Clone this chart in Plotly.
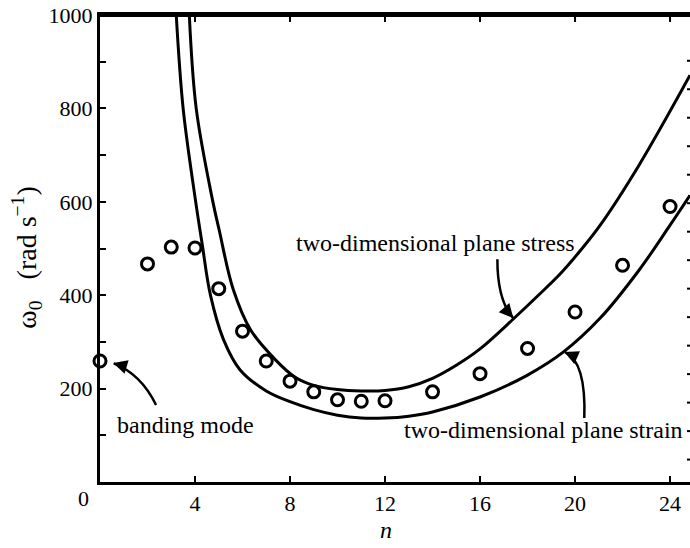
import plotly.graph_objects as go

# ---- data ----
n_exp = [0, 2, 3, 4, 5, 6, 7, 8, 9, 10, 11, 12, 14, 16, 18, 20, 22, 24]
w_exp = [259, 467, 503, 501, 414, 323, 259, 216, 193, 176, 173, 174, 193, 232, 286, 364, 464, 590]

n_stress = [3.76, 4.05, 4.74, 5.02, 5.6, 6.35, 7.4, 8.2, 9.0, 10, 11, 12, 13, 14, 15, 16, 17.4, 18.5, 19.4, 20.2, 21.06, 22.7, 24.84]
w_stress = [1000, 800, 603, 539, 414, 325, 261, 225, 207, 198, 195, 196, 204, 222, 250, 285, 349, 402, 447, 494, 550, 679, 871]

n_strain = [3.21, 3.5, 4.0, 4.3, 4.65, 5.2, 5.9, 7.0, 8.0, 9.0, 10, 11, 12, 13, 14, 16, 18, 19.5, 21.06, 22.7, 24, 24.84]
w_strain = [1000, 800, 610, 510, 400, 305, 240, 195, 172, 155, 143, 137, 137, 141, 150, 182, 229, 278, 351, 454, 550, 614]

x_ticks = [4, 8, 12, 16, 20, 24]
x_tick_labels = ["4", "8", "12", "16", "20", "24"]
y_ticks = [100, 200, 300, 400, 500, 600, 700, 800, 900, 1000]
y_tick_labels = ["", "200", "", "400", "", "600", "", "800", "", "1000"]
right_ticks = [902 - 61 * k for k in range(15)]

FONT = "Liberation Serif"
X_RANGE = [0, 24.84]
Y_RANGE = [0, 1000]
PLOT_W, PLOT_H = 590, 467

fig = go.Figure()
line_style = dict(color="black", width=3, shape="spline", smoothing=1.0)
fig.add_trace(go.Scatter(x=n_stress, y=w_stress, mode="lines", line=line_style,
                         showlegend=False, hoverinfo="skip"))
fig.add_trace(go.Scatter(x=n_strain, y=w_strain, mode="lines", line=line_style,
                         showlegend=False, hoverinfo="skip"))
fig.add_trace(go.Scatter(x=n_exp, y=w_exp, mode="markers",
                         marker=dict(symbol="circle-open", size=12, color="black",
                                     line=dict(width=3, color="black")),
                         cliponaxis=False, showlegend=False, hoverinfo="skip"))
# top frame line drawn along the upper edge of the axis range
fig.add_trace(go.Scatter(x=X_RANGE, y=[Y_RANGE[1], Y_RANGE[1]], mode="lines",
                         line=dict(color="black", width=4), cliponaxis=False,
                         showlegend=False, hoverinfo="skip"))

axis_common = dict(ticks="inside", tickwidth=2, tickcolor="black", showgrid=False,
                   zeroline=False, automargin=False, showline=True, linewidth=3,
                   linecolor="black", tickfont=dict(size=22), ticklen=6)

fig.update_layout(
    width=690, height=548,
    margin=dict(l=100, r=0, t=15, b=66),
    paper_bgcolor="white", plot_bgcolor="white",
    font=dict(family=FONT, size=22, color="black"),
    xaxis=dict(range=X_RANGE, tickvals=x_ticks, ticktext=x_tick_labels, mirror="ticks",
               **axis_common),
    yaxis=dict(range=Y_RANGE, tickvals=y_ticks, ticktext=y_tick_labels, **axis_common),
)

# top frame line with inward ticks (explicit shapes as well)
fig.add_shape(type="rect", xref="paper", yref="paper", x0=-3 / PLOT_W, x1=1,
              y0=1 - 1.0 / PLOT_H, y1=1 + 2.0 / PLOT_H, layer="above",
              line=dict(width=0), fillcolor="black")
for t in x_ticks:
    fig.add_shape(type="line", xref="x", yref="paper", x0=t, x1=t, layer="above",
                  y0=1, y1=1 - 7 / PLOT_H, line=dict(color="black", width=2))
# right-hand ticks (frame itself lies just outside the picture)
for v in right_ticks:
    fig.add_shape(type="line", xref="paper", yref="y", x0=1 - 3 / PLOT_W, x1=1,
                  y0=v, y1=v, line=dict(color="black", width=2))

def arrow(path_pts, head, ax, ay):
    (x0, y0), (cx, cy), (x1, y1) = path_pts
    fig.add_shape(type="path", xref="x", yref="y",
                  path=f"M {x0},{y0} Q {cx},{cy} {x1},{y1}",
                  line=dict(color="black", width=2.5))
    fig.add_annotation(x=head[0], y=head[1], xref="x", yref="y", text="",
                       showarrow=True, arrowhead=2, arrowsize=1.4, arrowwidth=2,
                       arrowcolor="black", ax=ax, ay=ay, standoff=0)

arrow([(2.36, 165), (1.73, 231), (0.58, 254)], (0.555, 254.8), 10, 3)
arrow([(16.73, 477), (16.73, 390), (17.38, 352)], (17.40, 351), -7, -8)
arrow([(20.39, 137), (20.47, 257), (19.58, 278)], (19.55, 278.4), 9, 4)

ann_font = dict(family=FONT, size=24, color="black")
fig.add_annotation(x=3.62, y=122, text="banding mode", showarrow=False, font=ann_font)
fig.add_annotation(x=14.13, y=512, text="two-dimensional plane stress", showarrow=False, font=ann_font)
fig.add_annotation(x=18.66, y=111, text="two-dimensional plane strain", showarrow=False, font=ann_font)

# texts outside the plot area (paper coordinates)
def paper_text(x, y, text, size, angle=0):
    fig.add_annotation(xref="paper", yref="paper", x=x, y=y, text=text, textangle=angle,
                       xanchor="center", yanchor="middle", showarrow=False,
                       font=dict(family=FONT, size=size))

paper_text(-0.0288, -0.036, "0", 22)
paper_text(0.484, -0.1028, "<i>n</i>", 24)
paper_text(-0.124, 0.48, "ω<sub>0</sub>   (rad s<sup>−1</sup>)", 28, -90)

fig.write_html("out.html", config={"displayModeBar": False},
               post_script="document.body.style.margin='0px';document.body.style.overflow='hidden';")
